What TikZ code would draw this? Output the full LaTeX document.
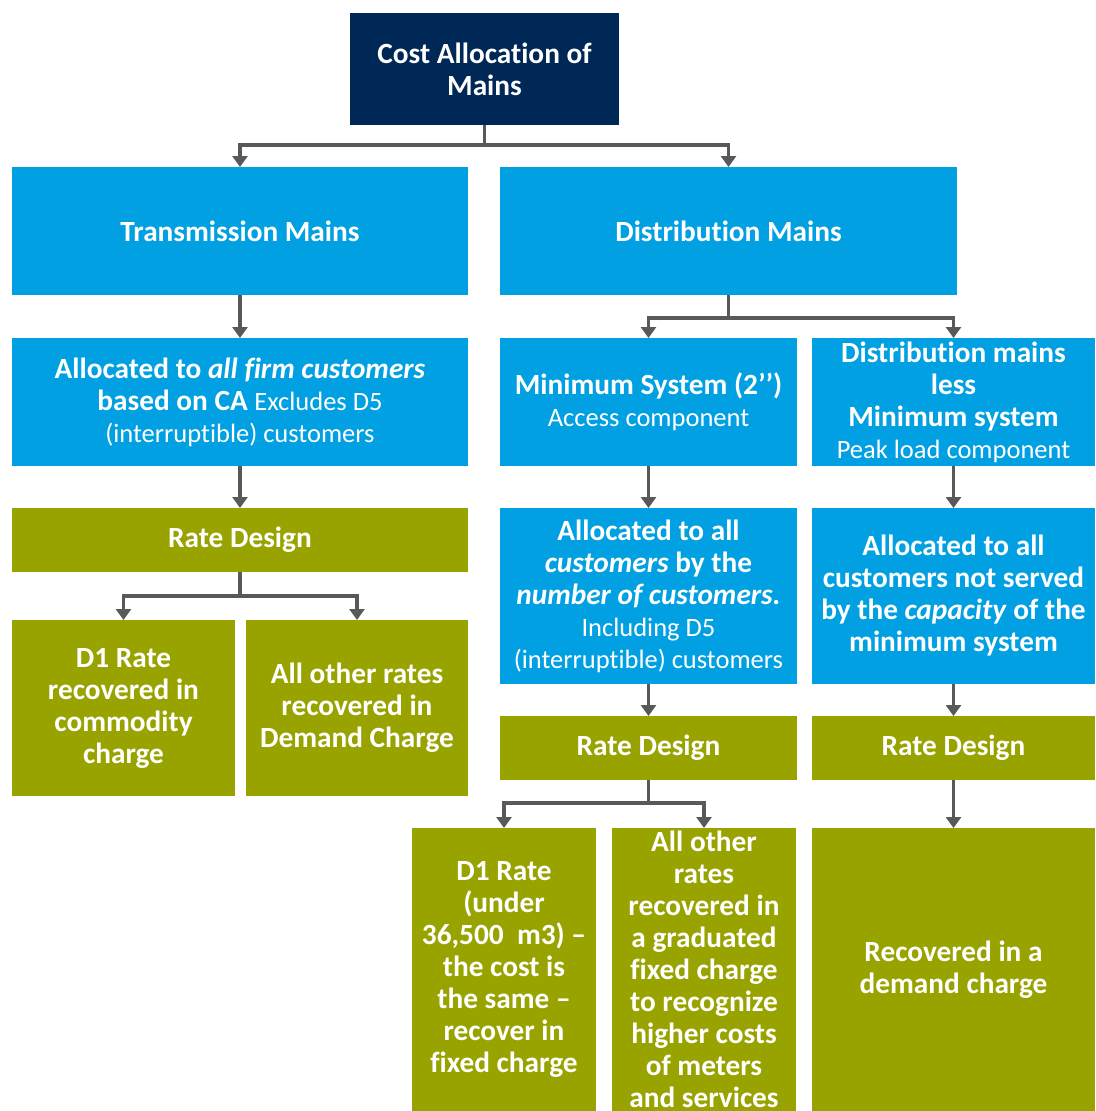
\documentclass[tikz,border=0pt]{standalone}
\usepackage{fontspec}
\setmainfont{Carlito}[Ligatures=NoCommon]
\usetikzlibrary{arrows.meta}
\definecolor{navy}{RGB}{0,40,86}
\definecolor{sky}{RGB}{0,160,226}
\definecolor{olive}{RGB}{153,163,0}
\definecolor{connc}{RGB}{89,89,89}
\newcommand{\smtxt}[1]{{\mdseries\fontsize{26.5}{29.5}\selectfont #1}}
\tikzset{
  base/.style={inner sep=0pt, outer sep=0pt, text=white, align=center,
    font=\fontsize{29.3}{32}\selectfont\bfseries},
  bluebox/.style={base, fill=sky},
  greenbox/.style={base, fill=olive},
  navybox/.style={base, fill=navy},
  conn/.style={draw=connc, line width=3.5pt, -{Triangle[width=15pt,length=11pt]}},
  connplain/.style={draw=connc, line width=3.5pt}
}
\begin{document}
\begin{tikzpicture}[x=1pt,y=-1pt]
\useasboundingbox (0,0) rectangle (1095,1111);
\node[navybox, minimum width=269pt, minimum height=112pt] (top) at (484.5,69) {Cost Allocation of\\Mains};
\node[bluebox, minimum width=456pt, minimum height=128pt] (trans) at (240,231) {Transmission Mains};
\node[bluebox, minimum width=457pt, minimum height=128pt] (dist) at (728.5,231) {Distribution Mains};
\node[bluebox, minimum width=456pt, minimum height=128pt] (allocl) at (240,402)
  {Allocated to \textit{all firm customers}\\based on CA \smtxt{Excludes D5}\\\smtxt{(interruptible) customers}};
\node[bluebox, minimum width=297pt, minimum height=128pt] (minsys) at (648.5,402)
  {Minimum System (2’’)\\\smtxt{Access component}};
\node[bluebox, minimum width=283pt, minimum height=128pt] (distless) at (953.5,402)
  {Distribution mains\\less\\Minimum system\\\smtxt{Peak load component}};
\node[greenbox, minimum width=456pt, minimum height=64pt] (ratel) at (240,540) {Rate Design};
\node[greenbox, minimum width=223pt, minimum height=176pt] (d1l) at (123.5,708)
  {D1 Rate\\recovered in\\commodity\\charge};
\node[greenbox, minimum width=222pt, minimum height=176pt] (otherl) at (357,708)
  {All other rates\\recovered in\\Demand Charge};
\node[bluebox, minimum width=297pt, minimum height=176pt] (allocm) at (648.5,596)
  {Allocated to all\\\textit{customers} by the\\\textit{number of customers.}\\\smtxt{Including D5}\\\smtxt{(interruptible) customers}};
\node[bluebox, minimum width=283pt, minimum height=176pt] (allocr) at (953.5,596)
  {Allocated to all\\customers not served\\by the \textit{capacity} of the\\minimum system};
\node[greenbox, minimum width=297pt, minimum height=64pt] (ratem) at (648.5,748) {Rate Design};
\node[greenbox, minimum width=283pt, minimum height=64pt] (rater) at (953.5,748) {Rate Design};
\node[greenbox, minimum width=184pt, minimum height=283pt] (d1b) at (504,969.5)
  {D1 Rate\\(under\\36,500~ m3) –\\the cost is\\the same –\\recover in\\fixed charge};
\node[greenbox, minimum width=184pt, minimum height=283pt] (otherb) at (704,969.5)
  {All other\\rates\\recovered in\\a graduated\\fixed charge\\to recognize\\higher costs\\of meters\\and services};
\node[greenbox, minimum width=283pt, minimum height=283pt] (rec) at (953.5,969.5)
  {Recovered in a\\demand charge};
% connectors
\coordinate (j1) at (484.5,145);
\draw[connplain] (top.south) -- (j1);
\draw[conn] (j1) -| (trans.north);
\draw[conn] (j1) -| (dist.north);
\draw[conn] (trans.south) -- (allocl.north);
\coordinate (j2) at (728.5,318);
\draw[connplain] (dist.south) -- (j2);
\draw[conn] (j2) -| (minsys.north);
\draw[conn] (j2) -| (distless.north);
\draw[conn] (allocl.south) -- (ratel.north);
\coordinate (j3) at (240,596);
\draw[connplain] (ratel.south) -- (j3);
\draw[conn] (j3) -| (d1l.north);
\draw[conn] (j3) -| (otherl.north);
\draw[conn] (minsys.south) -- (allocm.north);
\draw[conn] (distless.south) -- (allocr.north);
\draw[conn] (allocm.south) -- (ratem.north);
\draw[conn] (allocr.south) -- (rater.north);
\coordinate (j4) at (648.5,803);
\draw[connplain] (ratem.south) -- (j4);
\draw[conn] (j4) -| (d1b.north);
\draw[conn] (j4) -| (otherb.north);
\draw[conn] (rater.south) -- (rec.north);
\end{tikzpicture}
\end{document}
